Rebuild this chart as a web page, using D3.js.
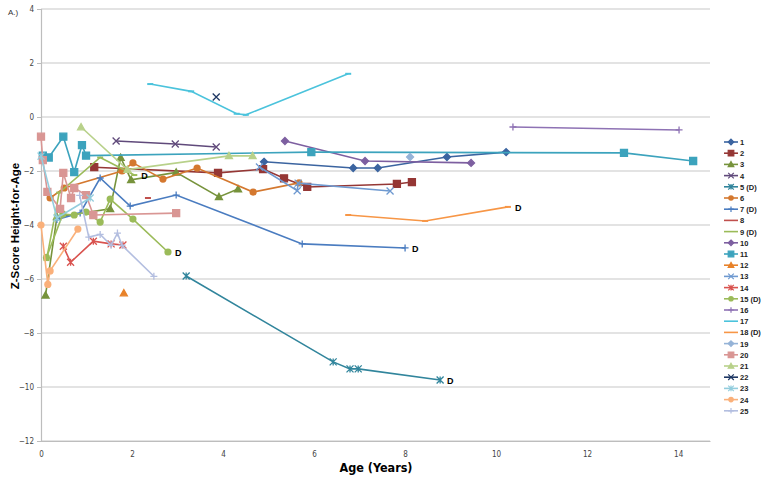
<!DOCTYPE html>
<html><head><meta charset="utf-8">
<script src="https://cdn.jsdelivr.net/npm/d3@7"></script>
<style>body{margin:0;background:#fff}svg{display:block}</style>
</head><body><div id="c"></div>
<script>
// Series data: [age (years), z-score]
const seriesNames = ["1","2","3","4","5 (D)","6","7 (D)","8","9 (D)","10","11","12","13","14","15 (D)","16","17","18 (D)","19","20","21","22","23","24","25"];
const seriesColors = ["#3B64A0","#953735","#77933C","#604A7B","#31859C","#D4782F","#4A7CC0","#C0504D","#9BBB59","#7D5FA0","#3CA3BD","#E8822A","#6E99D0","#D9534F","#9BBB59","#8E72B4","#4BC3DC","#F79646","#95B3D7","#D99694","#B8D18A","#1F3864","#93CDDD","#FAB07A","#B3BEE0"];
const seriesMarkers = ["diamond","square","triangle","x","star","circle","plus","dash","dash","diamond","square","triangle","x","star","circle","plus","dash","dash","diamond","square","triangle","x","star","circle","plus"];
const s1 = [[4.9,-1.66],[6.86,-1.89],[7.4,-1.89],[8.92,-1.48],[10.22,-1.3]];
const s2 = [[1.17,-1.86],[3.89,-2.07],[4.88,-1.93],[5.34,-2.27],[5.85,-2.59],[7.82,-2.48],[8.15,-2.41]];
const s3 = [[0.1,-6.6],[0.35,-3.7],[1.52,-3.4],[1.75,-1.5],[1.98,-2.33],[2.97,-2.05],[3.91,-2.96],[4.33,-2.67]];
const s4 = [[1.65,-0.89],[2.95,-1.0],[3.85,-1.11]];
const s5 = [[3.19,-5.89],[6.42,-9.07],[6.79,-9.33],[6.97,-9.33],[8.77,-9.74]];
const s6 = [[0.2,-3.0],[0.51,-2.63],[1.78,-2.0],[2.02,-1.7],[2.68,-2.3],[3.43,-1.89],[4.66,-2.78],[5.67,-2.44]];
const s7 = [[0.35,-3.8],[0.86,-3.56],[1.3,-2.26],[1.96,-3.3],[2.97,-2.89],[5.74,-4.7],[8.0,-4.85]];
const s8 = [[2.35,-3.0]];
const s9 = [[0.12,-5.3],[0.4,-2.8],[1.3,-1.5],[2.05,-2.15]];
const s10 = [[5.36,-0.89],[7.12,-1.63],[9.45,-1.70]];
const s11 = [[0.04,-1.43],[0.17,-1.5],[0.49,-0.73],[0.73,-2.04],[0.9,-1.04],[0.99,-1.43],[5.94,-1.3],[12.81,-1.33],[14.33,-1.63]];
const s12 = [[1.82,-6.52]];
const s13 = [[4.8,-1.85],[5.63,-2.73],[5.65,-2.45],[7.67,-2.74]];
const s14 = [[0.49,-4.79],[0.65,-5.38],[1.15,-4.6],[1.54,-4.7],[1.8,-4.74]];
const s15 = [[0.12,-5.2],[0.48,-3.6],[0.73,-3.63],[0.99,-3.52],[1.3,-3.89],[1.52,-3.04],[2.02,-3.78],[2.79,-5.0]];
const s16 = [[10.37,-0.37],[14.02,-0.48]];
const s17 = [[2.4,1.22],[3.3,0.95],[4.3,0.12],[4.5,0.08],[6.75,1.6]];
const s18 = [[6.75,-3.63],[8.44,-3.85],[10.26,-3.33]];
const s19 = [[8.11,-1.48]];
const s20 = [[0.0,-0.73],[0.04,-1.6],[0.14,-2.77],[0.42,-3.4],[0.49,-2.07],[0.66,-3.0],[0.73,-2.63],[0.99,-2.89],[1.15,-3.63],[2.97,-3.56]];
const s21 = [[0.88,-0.37],[1.9,-1.95],[4.13,-1.44],[4.65,-1.44]];
const s22 = [[3.85,0.74]];
const s23 = [[0.0,-1.45],[0.35,-3.74],[1.08,-3.0]];
const s24 = [[0.0,-4.0],[0.15,-6.2],[0.2,-5.7],[0.81,-4.15]];
const s25 = [[0.85,-2.9],[1.05,-4.45],[1.3,-4.35],[1.54,-4.75],[1.68,-4.3],[1.78,-4.75],[2.48,-5.9]];
const seriesData = [s1,s2,s3,s4,s5,s6,s7,s8,s9,s10,s11,s12,s13,s14,s15,s16,s17,s18,s19,s20,s21,s22,s23,s24,s25];
const deathLabelSeries = [4,6,8,14,17];
const xTicks = [0,2,4,6,8,10,12,14];
const yTicks = [-12,-10,-8,-6,-4,-2,0,2,4];

const W=766,H=481;
const svg=d3.select("#c").append("svg").attr("width",W).attr("height",H);
const x=d3.scaleLinear().domain([0,14.7]).range([41,710]);
const y=d3.scaleLinear().domain([-12,4]).range([441,9]);
const tickFont="'Liberation Sans Narrow','DejaVu Sans Condensed',sans-serif";

svg.append("g").selectAll("line").data(yTicks).join("line")
 .attr("x1",x(0)).attr("x2",710).attr("y1",d=>y(d)).attr("y2",d=>y(d))
 .attr("stroke","#C8C8C8").attr("stroke-width",1.2);
const ya=svg.append("g").attr("transform",`translate(${x(0)},0)`)
 .call(d3.axisLeft(y).tickValues(yTicks).tickSize(4).tickFormat(d3.format("d")));
const xa=svg.append("g").attr("transform",`translate(0,${y(-12)})`)
 .call(d3.axisBottom(x).tickValues(xTicks).tickSize(0).tickPadding(10));
[ya,xa].forEach(g=>{g.select(".domain").attr("stroke","#BDBDBD").attr("stroke-width",1.2);
 g.selectAll(".tick line").attr("stroke","#BDBDBD");
 g.selectAll("text").attr("font-family",tickFont).attr("font-size",8).attr("fill","#444");});

function markerPath(type,s){
  switch(type){
    case "diamond": return `M0,${-s}L${s},0L0,${s}L${-s},0Z`;
    case "square": return `M${-s},${-s}H${s}V${s}H${-s}Z`;
    case "triangle": return `M0,${-s}L${s},${s*0.8}L${-s},${s*0.8}Z`;
    case "x": return `M${-s},${-s}L${s},${s}M${-s},${s}L${s},${-s}`;
    case "star": return `M${-s},${-s}L${s},${s}M${-s},${s}L${s},${-s}M0,${-s}V${s}`;
    case "plus": return `M${-s},0H${s}M0,${-s}V${s}`;
    case "dash": return `M${-s},0H${s}`;
  }
  return "";
}
const line=d3.line().x(d=>x(d[0])).y(d=>y(d[1]));
seriesData.forEach((data,i)=>{
  const col=seriesColors[i], m=seriesMarkers[i];
  const g=svg.append("g");
  if(data.length>1) g.append("path").attr("d",line(data)).attr("fill","none").attr("stroke",col).attr("stroke-width",1.6);
  data.forEach(d=>{
    if(m==="circle") g.append("circle").attr("cx",x(d[0])).attr("cy",y(d[1])).attr("r",3.6).attr("fill",col);
    else {
      const filled=["diamond","square","triangle"].includes(m);
      g.append("path").attr("transform",`translate(${x(d[0])},${y(d[1])})`)
       .attr("d",markerPath(m, m==="dash"?3:3.5)).attr("fill",filled?col:"none")
       .attr("stroke",col).attr("stroke-width",m==="dash"?2:1.3);
    }
  });
  if(deathLabelSeries.includes(i)){
    const d=data[data.length-1];
    svg.append("text").attr("x",x(d[0])+7).attr("y",y(d[1])+4).text("D")
     .attr("font-family","Arial, 'Liberation Sans', sans-serif").attr("font-size",9).attr("font-weight","bold");
  }
});

const lg=svg.append("g");
seriesNames.forEach((n,i)=>{
  const ly=142+i*11.2;
  const col=seriesColors[i],m=seriesMarkers[i];
  lg.append("line").attr("x1",724).attr("x2",738).attr("y1",ly).attr("y2",ly).attr("stroke",col).attr("stroke-width",1.6);
  if(m==="circle") lg.append("circle").attr("cx",731).attr("cy",ly).attr("r",2.8).attr("fill",col);
  else if(m!=="dash"){
    const filled=["diamond","square","triangle"].includes(m);
    lg.append("path").attr("transform",`translate(731,${ly})`).attr("d",markerPath(m,2.8))
     .attr("fill",filled?col:"none").attr("stroke",col).attr("stroke-width",1.2);
  }
  lg.append("text").attr("x",740).attr("y",ly+3).text(n)
   .attr("font-family","Arial, 'Liberation Sans', sans-serif").attr("font-size",7.5).attr("font-weight","bold").attr("fill","#222");
});

svg.append("text").attr("x",8).attr("y",15).text("A.)").attr("font-family","Arial, 'Liberation Sans', sans-serif").attr("font-size",8).attr("fill","#333");
svg.append("text").attr("x",376).attr("y",472).attr("text-anchor","middle").text("Age (Years)")
 .attr("font-family","'Liberation Sans Narrow','DejaVu Sans Condensed',sans-serif").attr("font-size",12.5).attr("font-weight","bold");
svg.append("text").attr("transform","translate(19,226) rotate(-90)").attr("text-anchor","middle").text("Z-Score Height-for-Age")
 .attr("font-family","Arial, 'Liberation Sans', sans-serif").attr("font-size",11.5).attr("font-weight","bold");
</script></body></html>
